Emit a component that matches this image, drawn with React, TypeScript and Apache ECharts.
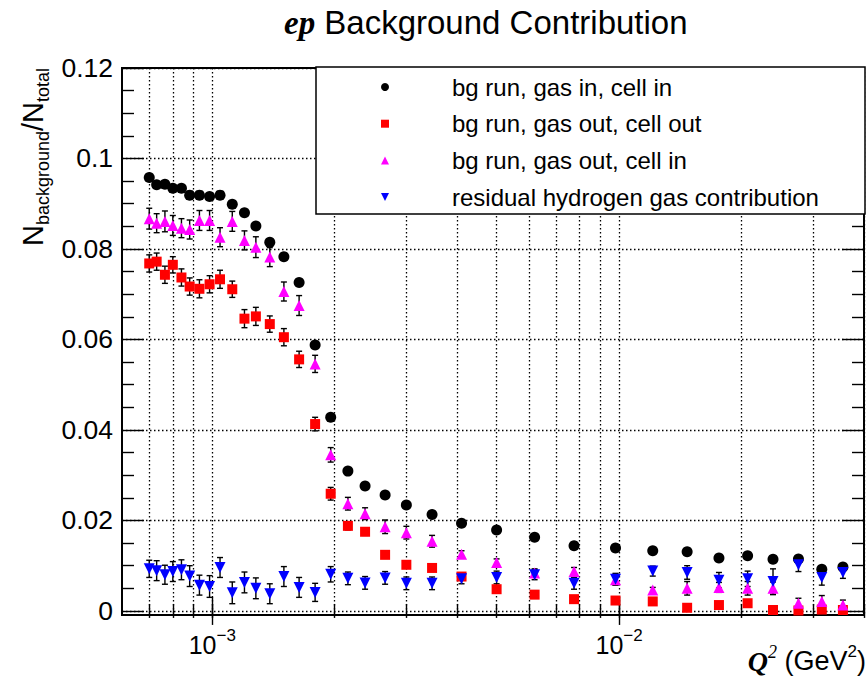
import React, { useEffect, useRef } from "react";
import * as echarts from "echarts";

// Q^2 bin centres (GeV^2)
const q2 = [7.0e-4, 7.3e-4, 7.65e-4, 8.0e-4, 8.4e-4, 8.8e-4, 9.3e-4, 9.85e-4, 1.045e-3, 1.12e-3, 1.2e-3, 1.28e-3, 1.385e-3, 1.5e-3, 1.635e-3, 1.79e-3, 1.955e-3, 2.155e-3, 2.375e-3, 2.66e-3, 3.0e-3, 3.47e-3, 4.1e-3, 5.0e-3, 6.2e-3, 7.75e-3, 9.8e-3, 1.21e-2, 1.47e-2, 1.76e-2, 2.07e-2, 2.39e-2, 2.76e-2, 3.15e-2, 3.55e-2];

const gasInCellIn = [0.0958, 0.0942, 0.0943, 0.0934, 0.0934, 0.0919, 0.0919, 0.0916, 0.0919, 0.0899, 0.0880, 0.0851, 0.0815, 0.0783, 0.0726, 0.0588, 0.0428, 0.0309, 0.0276, 0.0256, 0.0234, 0.0213, 0.0194, 0.0179, 0.0163, 0.0144, 0.0139, 0.0133, 0.0131, 0.0117, 0.0122, 0.0114, 0.0115, 0.0092, 0.0097];
const gasInCellInErr = [0.0004, 0.0004, 0.0004, 0.0004, 0.0004, 0.0004, 0.0004, 0.0004, 0.0004, 0.0004, 0.0004, 0.0004, 0.0004, 0.0004, 0.0004, 0.0004, 0.0004, 0.0003, 0.0003, 0.0003, 0.0003, 0.0003, 0.0003, 0.0003, 0.0003, 0.0003, 0.0003, 0.0003, 0.0003, 0.0003, 0.0003, 0.0003, 0.0003, 0.0003, 0.0003];

const gasOutCellOut = [0.0768, 0.0772, 0.0743, 0.0765, 0.0737, 0.0717, 0.0712, 0.0722, 0.0733, 0.0711, 0.0646, 0.0651, 0.0634, 0.0605, 0.0556, 0.0413, 0.0259, 0.0188, 0.0175, 0.0124, 0.0102, 0.0095, 0.0076, 0.0048, 0.0036, 0.0026, 0.0023, 0.0021, 0.0007, 0.0013, 0.0017, 0.0002, 0.0001, 0.0003, 0.0002];
const gasOutCellOutErr = [0.0019, 0.0019, 0.0019, 0.0018, 0.0019, 0.0019, 0.0020, 0.0019, 0.0020, 0.0018, 0.0020, 0.0020, 0.0018, 0.0019, 0.0018, 0.0015, 0.0014, 0.0009, 0.0008, 0.0006, 0.0006, 0.0006, 0.0005, 0.0005, 0.0005, 0.0005, 0.0005, 0.0005, 0.0005, 0.0005, 0.0005, 0.0005, 0.0005, 0.0005, 0.0005];

const gasOutCellIn = [0.0867, 0.0857, 0.0861, 0.0852, 0.0846, 0.0843, 0.0863, 0.0863, 0.0826, 0.0861, 0.0819, 0.0804, 0.0782, 0.0706, 0.0675, 0.0546, 0.0345, 0.0237, 0.0215, 0.0186, 0.0173, 0.0154, 0.0125, 0.0107, 0.0084, 0.0087, 0.0069, 0.0046, 0.0050, 0.0052, 0.0050, 0.0050, 0.0017, 0.0021, 0.0013];
const gasOutCellInErr = [0.0023, 0.0021, 0.0023, 0.0022, 0.0021, 0.0021, 0.0022, 0.0022, 0.0021, 0.0022, 0.0021, 0.0023, 0.0021, 0.0021, 0.0022, 0.0019, 0.0016, 0.0014, 0.0013, 0.0015, 0.0014, 0.0013, 0.0008, 0.0008, 0.0009, 0.0009, 0.0012, 0.0006, 0.0015, 0.0011, 0.0015, 0.0014, 0.0011, 0.0013, 0.0011];

const residualH = [0.0093, 0.0089, 0.0080, 0.0087, 0.0091, 0.0077, 0.0057, 0.0054, 0.0096, 0.0040, 0.0063, 0.0050, 0.0038, 0.0076, 0.0052, 0.0041, 0.0081, 0.0072, 0.0062, 0.0073, 0.0061, 0.0061, 0.0071, 0.0074, 0.0080, 0.0061, 0.0070, 0.0088, 0.0085, 0.0068, 0.0071, 0.0065, 0.0102, 0.0074, 0.0085];
const residualHErr = [0.0019, 0.0022, 0.0021, 0.0022, 0.0022, 0.0023, 0.0022, 0.0024, 0.0022, 0.0024, 0.0023, 0.0023, 0.0022, 0.0022, 0.0022, 0.0020, 0.0017, 0.0014, 0.0014, 0.0014, 0.0014, 0.0014, 0.0011, 0.0014, 0.0011, 0.0013, 0.0013, 0.0011, 0.0015, 0.0017, 0.0017, 0.0028, 0.0015, 0.0017, 0.0013];

const seriesNames = [
  "bg run, gas in, cell in",
  "bg run, gas out, cell out",
  "bg run, gas out, cell in",
  "residual hydrogen gas contribution",
];

const xMajorTicks = [1e-3, 1e-2];
const xAllTicks = [7e-4, 8e-4, 9e-4, 1e-3, 2e-3, 3e-3, 4e-3, 5e-3, 6e-3, 7e-3, 8e-3, 9e-3, 1e-2, 2e-2, 3e-2, 4e-2];
const yMajorTicks = [0, 0.02, 0.04, 0.06, 0.08, 0.1, 0.12];
const yMinorTicks = [0.005, 0.01, 0.015, 0.025, 0.03, 0.035, 0.045, 0.05, 0.055, 0.065, 0.07, 0.075, 0.085, 0.09, 0.095, 0.105, 0.11, 0.115];

const SANS = "Liberation Sans, Arial, Helvetica, sans-serif";
const SERIF = "Liberation Serif, Times New Roman, serif";

const X_MIN = 6e-4;
const X_MAX = 4e-2;
const Y_MIN = -0.0009;
const Y_MAX = 0.12;

const DOWN_TRIANGLE = "path://M0,0 L10,0 L5,10 Z";

function errorSeries(name: string, vals: number[], errs: number[]) {
  return {
    type: "custom",
    name: name + " (err)",
    data: q2.map((x, i) => [x, vals[i], errs[i]]),
    encode: { x: 0, y: 1 },
    clip: false,
    silent: true,
    z: 2,
    renderItem: (params: any, api: any) => {
      const x = api.value(0);
      const y = api.value(1);
      const e = api.value(2);
      const top = api.coord([x, y + e]);
      const bot = api.coord([x, y - e]);
      const cw = 3;
      const st = { stroke: "#000", lineWidth: 1.4 };
      return {
        type: "group",
        children: [
          { type: "line", shape: { x1: top[0], y1: top[1], x2: bot[0], y2: bot[1] }, style: st },
          { type: "line", shape: { x1: top[0] - cw, y1: top[1], x2: top[0] + cw, y2: top[1] }, style: st },
          { type: "line", shape: { x1: bot[0] - cw, y1: bot[1], x2: bot[0] + cw, y2: bot[1] }, style: st },
        ],
      };
    },
  };
}

function pointSeries(name: string, vals: number[], symbol: string, size: number, color: string, rotate = 0) {
  return {
    type: "scatter",
    name,
    data: q2.map((x, i) => [x, vals[i]]),
    symbol,
    symbolSize: size,
    symbolRotate: rotate,
    clip: false,
    z: 3,
    itemStyle: { color, opacity: 1 },
  };
}

const xAxisBase = {
  type: "log",
  logBase: 10,
  min: X_MIN,
  max: X_MAX,
  gridIndex: 0,
  axisLine: { show: false },
};

const yAxisBase = {
  type: "value",
  min: Y_MIN,
  max: Y_MAX,
  gridIndex: 0,
  axisLine: { show: false },
};

const tickStyle = { color: "#000", width: 1.4 };

export default function App() {
  const ref = useRef<HTMLDivElement>(null);
  useEffect(() => {
    document.body.style.margin = "0";
    if (!ref.current) return;
    const chart = echarts.init(ref.current, undefined, { renderer: "svg" });
    const option: any = {
      animation: false,
      backgroundColor: "#fff",
      title: {
        text: "{ep|ep} {bg|Background Contribution}",
        left: 279,
        top: 1,
        textStyle: {
          fontSize: 33,
          fontFamily: SANS,
          fontWeight: "normal",
          color: "#000",
          rich: {
            ep: { fontFamily: SERIF, fontStyle: "italic", fontWeight: "bold", fontSize: 33, color: "#000" },
            bg: { fontFamily: SANS, fontSize: 33, color: "#000" },
          },
        },
      },
      grid: {
        left: 122,
        right: 4,
        top: 68,
        bottom: 66,
        show: true,
        borderColor: "#000",
        borderWidth: 2,
        backgroundColor: "transparent",
      },
      xAxis: [
        {
          ...xAxisBase,
          position: "bottom",
          axisTick: { show: true, inside: true, length: 7, customValues: xAllTicks, lineStyle: tickStyle },
          axisLabel: { show: false },
          splitLine: { show: true, lineStyle: { color: "#000", width: 1.3, type: [1.5, 2.5] } },
        },
        {
          ...xAxisBase,
          position: "bottom",
          axisTick: { show: true, inside: true, length: 14, customValues: xMajorTicks, lineStyle: tickStyle },
          axisLabel: {
            show: true,
            customValues: xMajorTicks,
            margin: 12,
            formatter: (v: number) => `{b|10}{s|\u2212${Math.abs(Math.round(Math.log10(v)))}}`,
            rich: {
              b: { fontSize: 25, fontFamily: SANS, color: "#000", lineHeight: 35, verticalAlign: "middle" },
              s: { fontSize: 17, fontFamily: SANS, color: "#000", lineHeight: 17, verticalAlign: "top" },
            },
          },
          splitLine: { show: false },
        },
        {
          ...xAxisBase,
          position: "top",
          axisTick: { show: true, inside: true, length: 7, customValues: xAllTicks, lineStyle: tickStyle },
          axisLabel: { show: false },
          splitLine: { show: false },
        },
        {
          ...xAxisBase,
          position: "top",
          axisTick: { show: true, inside: true, length: 14, customValues: xMajorTicks, lineStyle: tickStyle },
          axisLabel: { show: false },
          splitLine: { show: false },
        },
      ],
      yAxis: [
        {
          ...yAxisBase,
          position: "left",
          axisTick: { show: true, inside: true, length: 22, customValues: yMajorTicks, lineStyle: tickStyle },
          axisLabel: {
            show: true,
            customValues: yMajorTicks,
            margin: 9,
            fontSize: 26.5,
            fontFamily: SANS,
            color: "#000",
            formatter: (v: number) => String(parseFloat(v.toFixed(3))),
          },
          splitLine: { show: true, lineStyle: { color: "#000", width: 1.3, type: [1.5, 2.5] } },
        },
        {
          ...yAxisBase,
          position: "left",
          axisTick: { show: true, inside: true, length: 12, customValues: yMinorTicks, lineStyle: tickStyle },
          axisLabel: { show: false },
          splitLine: { show: false },
        },
        {
          ...yAxisBase,
          position: "right",
          axisTick: { show: true, inside: true, length: 22, customValues: yMajorTicks, lineStyle: tickStyle },
          axisLabel: { show: false },
          splitLine: { show: false },
        },
        {
          ...yAxisBase,
          position: "right",
          axisTick: { show: true, inside: true, length: 12, customValues: yMinorTicks, lineStyle: tickStyle },
          axisLabel: { show: false },
          splitLine: { show: false },
        },
      ],
      legend: {
        data: [
          { name: seriesNames[0] },
          { name: seriesNames[1] },
          { name: seriesNames[2] },
          { name: seriesNames[3], icon: DOWN_TRIANGLE },
        ],
        orient: "vertical",
        left: 381,
        top: 75,
        padding: 0,
        itemWidth: 8,
        itemHeight: 8,
        itemGap: 12.7,
        selectedMode: false,
        z: 5,
        formatter: (name: string) => `{sp|}${name}`,
        textStyle: {
          fontSize: 24,
          fontFamily: SANS,
          color: "#000",
          lineHeight: 24,
          rich: { sp: { width: 58, fontSize: 24, lineHeight: 24 } },
        },
      },
      graphic: [
        {
          type: "rect",
          z: 4,
          shape: { x: 316, y: 67, width: 549, height: 147 },
          style: { fill: "#fff", stroke: "#000", lineWidth: 1.5 },
        },
        {
          type: "text",
          x: 33,
          y: 68,
          rotation: Math.PI / 2,
          z: 5,
          style: {
            text: "{n|N}{s|background}{n|/N}{s|total}",
            align: "right",
            verticalAlign: "middle",
            fill: "#000",
            rich: {
              n: { fontSize: 29, fontFamily: SANS, fill: "#000", lineHeight: 37, verticalAlign: "middle" },
              s: { fontSize: 18, fontFamily: SANS, fill: "#000", lineHeight: 18, verticalAlign: "bottom" },
            },
          },
        },
        {
          type: "text",
          x: 866,
          y: 661,
          z: 5,
          style: {
            text: "{q|Q}{qs|2}{t| (GeV}{ts|2}{t|)}",
            align: "right",
            verticalAlign: "middle",
            fill: "#000",
            rich: {
              q: { fontSize: 28, fontFamily: SERIF, fontStyle: "italic", fontWeight: "bold", fill: "#000", lineHeight: 36, verticalAlign: "middle" },
              qs: { fontSize: 18, fontFamily: SERIF, fontStyle: "italic", fill: "#000", lineHeight: 18, verticalAlign: "top" },
              t: { fontSize: 27, fontFamily: SANS, fill: "#000", lineHeight: 36, verticalAlign: "middle" },
              ts: { fontSize: 17, fontFamily: SANS, fill: "#000", lineHeight: 17, verticalAlign: "top" },
            },
          },
        },
      ],
      series: [
        errorSeries(seriesNames[0], gasInCellIn, gasInCellInErr),
        pointSeries(seriesNames[0], gasInCellIn, "circle", 11, "#000000"),
        errorSeries(seriesNames[1], gasOutCellOut, gasOutCellOutErr),
        pointSeries(seriesNames[1], gasOutCellOut, "rect", 10, "#ff0000"),
        errorSeries(seriesNames[2], gasOutCellIn, gasOutCellInErr),
        pointSeries(seriesNames[2], gasOutCellIn, "triangle", 11, "#ff00ff"),
        errorSeries(seriesNames[3], residualH, residualHErr),
        pointSeries(seriesNames[3], residualH, "triangle", 11, "#0000ff", 180),
      ],
    };
    chart.setOption(option);
    return () => chart.dispose();
  }, []);
  return <div ref={ref} style={{ width: 868, height: 681 }} />;
}
